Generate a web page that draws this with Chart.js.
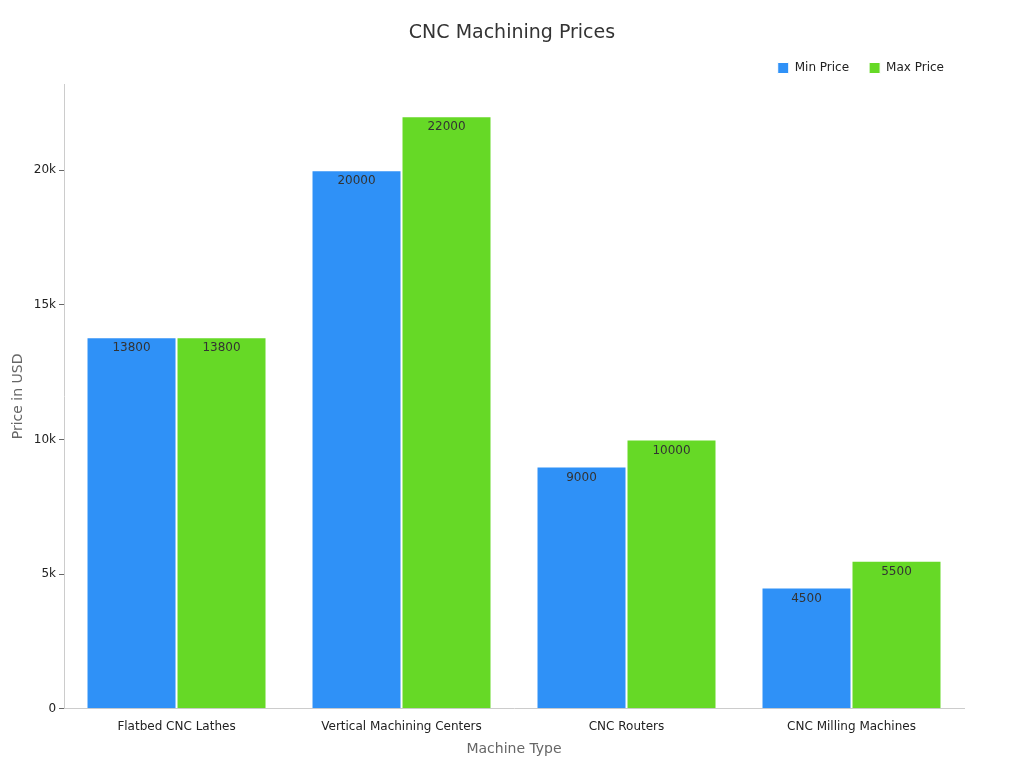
<!DOCTYPE html>
<html>
<head>
<meta charset="utf-8">
<script src="https://cdn.jsdelivr.net/npm/chart.js@4"></script>
<style>
  body { margin: 0; background: #fff; }
  #wrap { width: 1024px; height: 768px; }
</style>
</head>
<body>
<div id="wrap"><canvas id="chart"></canvas></div>
<script>
var categories = ['Flatbed CNC Lathes', 'Vertical Machining Centers', 'CNC Routers', 'CNC Milling Machines'];
var minPrice = [13800, 20000, 9000, 4500];
var maxPrice = [13800, 22000, 10000, 5500];

// labels drawn just inside the top of each bar, plus a page-centred title
var barLabels = {
  id: 'barLabels',
  afterDatasetsDraw: function(chart) {
    var ctx = chart.ctx;
    ctx.save();
    ctx.font = '12px "DejaVu Sans"';
    ctx.fillStyle = '#333';
    ctx.textAlign = 'center';
    ctx.textBaseline = 'top';
    chart.data.datasets.forEach(function(ds, i) {
      chart.getDatasetMeta(i).data.forEach(function(bar, j) {
        ctx.fillText(ds.data[j], bar.x, bar.y + 5);
      });
    });
    ctx.font = '19px "DejaVu Sans"';
    ctx.textBaseline = 'middle';
    ctx.fillText('CNC Machining Prices', chart.width / 2, 33);
    ctx.restore();
  }
};

Chart.defaults.font.family = '"DejaVu Sans", sans-serif';
Chart.defaults.color = '#222';

new Chart(document.getElementById('chart'), {
  type: 'bar',
  data: {
    labels: categories,
    datasets: [{
      label: 'Min Price',
      data: minPrice,
      backgroundColor: '#2f91f7',
      borderColor: '#ffffff',
      borderWidth: 1,
      categoryPercentage: 0.8,
      barPercentage: 1.0
    }, {
      label: 'Max Price',
      data: maxPrice,
      backgroundColor: '#66d926',
      borderColor: '#ffffff',
      borderWidth: 1,
      categoryPercentage: 0.8,
      barPercentage: 1.0
    }]
  },
  options: {
    responsive: true,
    maintainAspectRatio: false,
    animation: false,
    layout: { padding: { left: 6, right: 60, top: 42, bottom: 6 } },
    plugins: {
      legend: {
        align: 'end',
        labels: { usePointStyle: true, pointStyle: 'rect', boxWidth: 11, boxHeight: 11, font: { size: 12 }, padding: 20 }
      },
      tooltip: { enabled: false }
    },
    scales: {
      x: {
        grid: { display: false },
        border: { color: '#ccc' },
        ticks: { font: { size: 12 } },
        title: { display: true, text: 'Machine Type', color: '#666', font: { size: 14 } }
      },
      y: {
        min: 0,
        max: 23200,
        grid: { display: true, drawOnChartArea: false, tickLength: 5, color: '#666' },
        border: { color: '#ccc' },
        ticks: {
          stepSize: 5000,
          font: { size: 12 },
          callback: function(v) { return v === 0 ? '0' : (v / 1000) + 'k'; }
        },
        afterBuildTicks: function(axis) {
          axis.ticks = [0, 5000, 10000, 15000, 20000].map(function(v) { return { value: v }; });
        },
        title: { display: true, text: 'Price in USD', color: '#666', font: { size: 14 } }
      }
    }
  },
  plugins: [barLabels]
});
</script>
</body>
</html>
